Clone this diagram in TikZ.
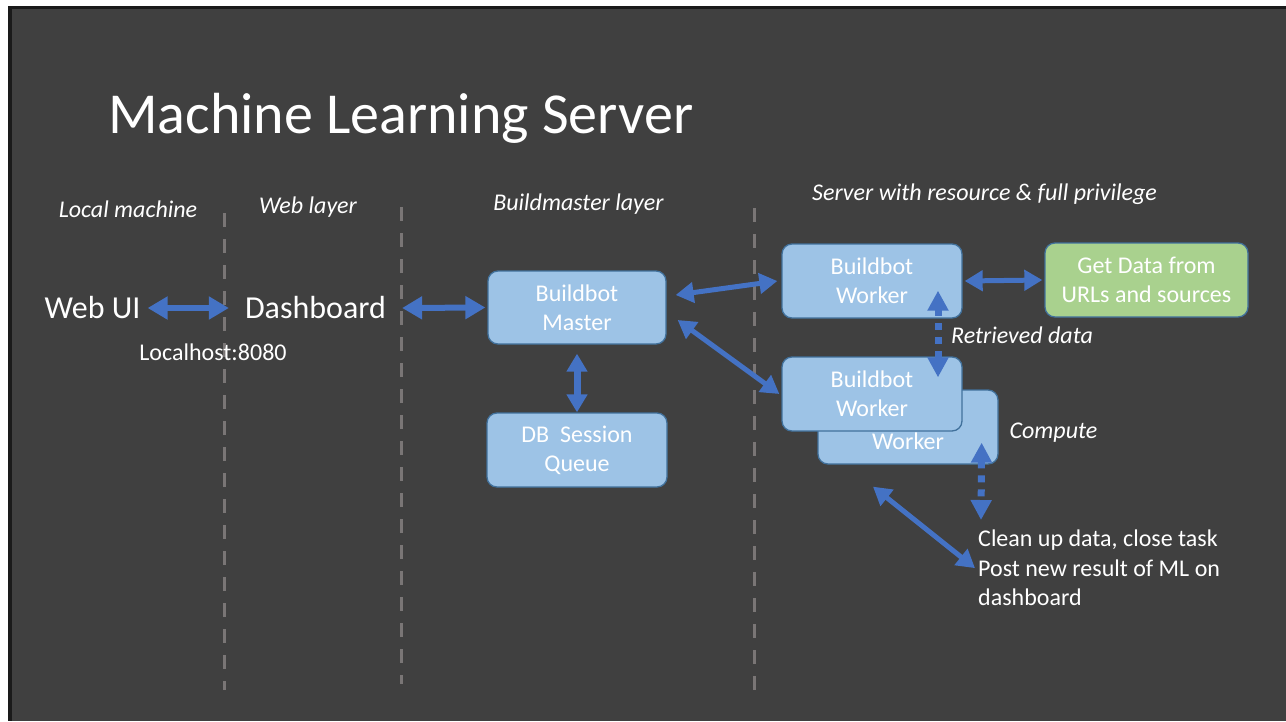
\documentclass[tikz,border=0pt]{standalone}
\usepackage{fontspec}
\setmainfont{Carlito}
\usetikzlibrary{arrows.meta,calc}
\definecolor{bg}{HTML}{404040}
\definecolor{edgeblack}{HTML}{1A1A1A}
\definecolor{boxfill}{HTML}{9DC3E6}
\definecolor{boxedge}{HTML}{41719C}
\definecolor{greenfill}{HTML}{A9D18E}
\definecolor{arrowblue}{HTML}{4472C4}
\definecolor{divgray}{HTML}{7A7676}
\tikzset{
  box/.style={rounded corners=10pt, fill=boxfill, draw=boxedge, line width=1.3pt, text=white, align=center,
    font=\fontsize{24}{29}\selectfont, minimum width=180pt, minimum height=74pt, inner sep=0pt},
  conn/.style={draw=arrowblue, line width=5pt, {Triangle[length=18pt,width=20pt]}-{Triangle[length=18pt,width=20pt]}},
  wideconn/.style={draw=arrowblue, line width=6pt, {Triangle[length=20pt,width=22pt]}-{Triangle[length=20pt,width=22pt]}},
  dotconn/.style={draw=arrowblue, line width=7pt, dash pattern=on 7pt off 7pt, {Triangle[length=20pt,width=20pt]}-{Triangle[length=20pt,width=20pt]}},
  layer/.style={text=white, inner sep=0pt, font=\itshape\fontsize{24}{28}\selectfont},
  divider/.style={draw=divgray, line width=3pt, dash pattern=on 14pt off 12pt},
  plain/.style={text=white, inner sep=0pt}
}
\begin{document}
\begin{tikzpicture}[x=1pt,y=-1pt]
\useasboundingbox (0,0) rectangle (1286,721);
\fill[white] (0,0) rectangle (1286,721);
\fill[edgeblack] (8,6) rectangle (1286,721);
\fill[bg] (12,9) rectangle (1286,721);

% title
\node[plain, anchor=base west, font=\fontsize{58}{66}\selectfont] (title) at (108,133) {Machine Learning Server};

% layer labels
\node[layer] (lloc) at (128,209) {Local machine};
\node[layer] (lweb) at (308,207) {Web layer};
\node[layer] (lbm) at (578.5,204) {Buildmaster layer};
\node[layer] (lsrv) at (984.5,194) {Server with resource \& full privilege};

% dividers
\draw[divider] (224,213) -- (224,690);
\draw[divider] (401,207) -- (401,684);
\draw[divider] (754,208) -- (754,698);

% left texts
\node[plain, font=\fontsize{32}{36}\selectfont] (webui) at (92.5,308) {Web UI};
\node[plain, font=\fontsize{32}{36}\selectfont] (dash) at (315.5,308) {Dashboard};
\node[plain, font=\fontsize{24}{28}\selectfont] (local) at (213,352) {Localhost:8080};

% boxes
\node[box, minimum width=178pt, minimum height=73pt] (master) at (577,307.5) {Buildbot\\Master};
\node[box] (db) at (577,450) {DB~~Session\\Queue};
\node[box] (w1) at (872,281) {Buildbot\\Worker};
\node[box, fill=greenfill, minimum width=203pt] (green) at (1146.5,280) {Get Data from\\URLs and sources};
\node[box] (w2back) at (908,427) {\phantom{Buildbot}\\Worker};
\node[box] (w2) at (872,394) {Buildbot\\Worker};

% side texts
\node[layer] (retr) at (1022,335) {Retrieved data};
\node[layer] (comp) at (1053.5,433) {Compute};
\node[plain, anchor=north west, align=left, font=\fontsize{24}{29.5}\selectfont] (clean) at (978,530)
  {Clean up data, close task\\Post new result of ML on\\dashboard};

% connectors
\draw[wideconn] ([xshift=7pt]webui.east) -- ([xshift=-16pt]dash.west);
\draw[wideconn] ([xshift=16pt]dash.east) -- ([xshift=-2pt]master.west);
\draw[conn, line width=7pt] ([yshift=-9pt]master.south) -- (db.north);
\draw[conn] ([xshift=9pt,yshift=12.5pt]master.east) -- ([xshift=-4pt]w1.west);
\draw[conn] ([xshift=11pt,yshift=-12.5pt]master.east) -- ([xshift=-2pt]w2.west);
\draw[conn] ([xshift=2pt]w1.east) -- ([xshift=-2pt]green.west);
\draw[dotconn] ([xshift=66pt,yshift=28pt]w1.south) -- ([xshift=66pt,yshift=-21pt]w2.north);
\draw[dotconn] ([xshift=-17pt,yshift=22pt]w2back.south east) -- ([xshift=3pt,yshift=10pt]clean.north west);
\draw[conn] ([xshift=-35pt,yshift=-22pt]w2back.south) -- ([xshift=-3pt]clean.west);
\end{tikzpicture}
\end{document}
